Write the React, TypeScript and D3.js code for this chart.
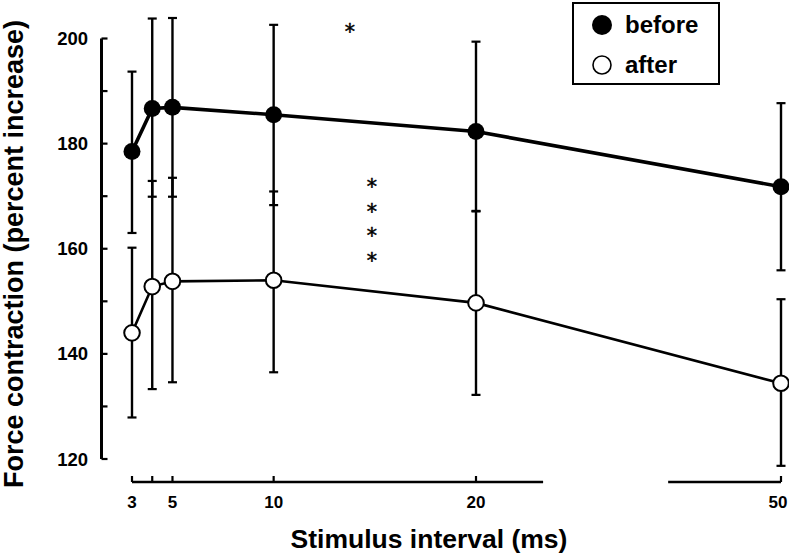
import React from "react";
import * as d3 from "d3";

// ---- data ----
const intervals = [3, 4, 5, 10, 20, 50];
const beforeMean = [178.5, 186.7, 186.9, 185.5, 182.3, 171.8];
const beforeHigh = [193.7, 203.8, 203.9, 202.6, 199.4, 187.7];
const beforeLow = [163.0, 169.9, 169.9, 168.3, 167.1, 155.9];
const afterMean = [144.0, 152.8, 153.8, 154.0, 149.7, 134.4];
const afterHigh = [160.2, 172.9, 173.5, 170.9, 167.2, 150.4];
const afterLow = [127.9, 133.3, 134.6, 136.5, 132.2, 118.7];

const xTickValues = [3, 4, 5, 10, 20, 50];
const xTickLabels = ["3", "", "5", "10", "20", "50"];
const yTickValues = [200, 190, 180, 170, 160, 150, 140, 130, 120];
const yLabelValues = [200, 180, 160, 140, 120];
const xAxisSegments: [number, number][] = [
  [3, 26.6],
  [38.9, 50],
];
const singleStar = { x: 13.77, y: 202.2 };
const starColumnX = 14.86;
const starColumnY = [172.7, 168.0, 163.4, 158.7];
const legendItems = ["before", "after"];

const W = 789;
const H = 553;
const FONT = "'Liberation Sans', Arial, Helvetica, sans-serif";
const STAR_FONT = "'DejaVu Sans', sans-serif";

export default function App() {
  const x = d3.scaleLinear().domain([3, 20, 50]).range([132, 476, 781]);
  const y = d3.scaleLinear().domain([120, 200]).range([459, 38.5]);
  const axisX = 101.5;
  const axisY = 482;

  const line = d3
    .line<[number, number]>()
    .x((d) => x(d[0]))
    .y((d) => y(d[1]));

  const beforePts = intervals.map((v, i) => [v, beforeMean[i]] as [number, number]);
  const afterPts = intervals.map((v, i) => [v, afterMean[i]] as [number, number]);

  const cap = 4.5;
  const errBars = (lo: number[], hi: number[], key: string) =>
    intervals.map((v, i) => {
      const cx = x(v);
      return (
        <g key={key + i} stroke="#000" strokeWidth={2.4}>
          <line x1={cx} x2={cx} y1={y(hi[i])} y2={y(lo[i])} />
          <line x1={cx - cap} x2={cx + cap} y1={y(hi[i])} y2={y(hi[i])} strokeWidth={2.2} />
          <line x1={cx - cap} x2={cx + cap} y1={y(lo[i])} y2={y(lo[i])} strokeWidth={2.2} />
        </g>
      );
    });

  const starFs = 20.5;
  const starBase = (v: number) => y(v) + 0.6 * starFs;

  return (
    <svg
      width={W}
      height={H}
      style={{ position: "absolute", left: 0, top: 0, background: "#fff" }}
      fontFamily={FONT}
    >
      <rect x={0} y={0} width={W} height={H} fill="#fff" />

      {/* y axis */}
      <line x1={axisX} x2={axisX} y1={y(200)} y2={y(120)} stroke="#000" strokeWidth={3} />
      {yTickValues.map((t) => (
        <line key={"yt" + t} x1={axisX} x2={axisX + 6} y1={y(t)} y2={y(t)} stroke="#000" strokeWidth={2.2} />
      ))}
      {yLabelValues.map((t) => (
        <text key={"yl" + t} x={88} y={y(t) + 6.5} textAnchor="end" fontSize={18.5} fontWeight="bold" fill="#000">
          {t}
        </text>
      ))}

      {/* x axis (broken) */}
      {xAxisSegments.map((s, i) => (
        <line key={"xs" + i} x1={x(s[0])} x2={x(s[1])} y1={axisY} y2={axisY} stroke="#000" strokeWidth={2.6} />
      ))}
      {xTickValues.map((t) => (
        <line key={"xt" + t} x1={x(t)} x2={x(t)} y1={axisY} y2={axisY - 6} stroke="#000" strokeWidth={2.2} />
      ))}
      {xTickValues.map((t, i) => (
        <text key={"xl" + t} x={x(t) - (t === 50 ? 3 : 0)} y={508} textAnchor="middle" fontSize={17} fontWeight="bold" fill="#000">
          {xTickLabels[i]}
        </text>
      ))}

      {/* axis titles */}
      <text x={429} y={548} textAnchor="middle" fontSize={26.5} fontWeight="bold" fill="#000">
        Stimulus interval (ms)
      </text>
      <text transform={`translate(23, 254) rotate(-90)`} textAnchor="middle" fontSize={27} fontWeight="bold" fill="#000">
        Force contraction (percent increase)
      </text>

      {/* error bars */}
      {errBars(beforeLow, beforeHigh, "be")}
      {errBars(afterLow, afterHigh, "ae")}

      {/* lines */}
      <path d={line(beforePts) || ""} fill="none" stroke="#000" strokeWidth={3.6} />
      <path d={line(afterPts) || ""} fill="none" stroke="#000" strokeWidth={2.6} />

      {/* markers */}
      {beforePts.map((p, i) => (
        <circle key={"bc" + i} cx={x(p[0])} cy={y(p[1])} r={8.5} fill="#000" />
      ))}
      {afterPts.map((p, i) => (
        <circle key={"ac" + i} cx={x(p[0])} cy={y(p[1])} r={7.8} fill="#fff" stroke="#000" strokeWidth={2} />
      ))}

      {/* significance asterisks */}
      <text
        x={x(singleStar.x)}
        y={starBase(singleStar.y)}
        textAnchor="middle"
        fontSize={starFs}
        fontFamily={STAR_FONT}
        fill="#000"
        stroke="#000"
        strokeWidth={0.5}
      >
        *
      </text>
      {starColumnY.map((v, i) => (
        <text
          key={"st" + i}
          x={x(starColumnX)}
          y={starBase(v)}
          textAnchor="middle"
          fontSize={starFs}
          fontFamily={STAR_FONT}
          fill="#000"
          stroke="#000"
          strokeWidth={0.5}
        >
          *
        </text>
      ))}

      {/* legend */}
      <rect x={573} y={3} width={146} height={81} fill="#fff" stroke="#000" strokeWidth={2} />
      <circle cx={602} cy={25} r={10} fill="#000" />
      <text x={625} y={33} fontSize={24} fontWeight="bold" fill="#000">
        {legendItems[0]}
      </text>
      <circle cx={602} cy={65} r={9} fill="#fff" stroke="#000" strokeWidth={1.6} />
      <text x={625} y={73} fontSize={24} fontWeight="bold" fill="#000">
        {legendItems[1]}
      </text>
    </svg>
  );
}
